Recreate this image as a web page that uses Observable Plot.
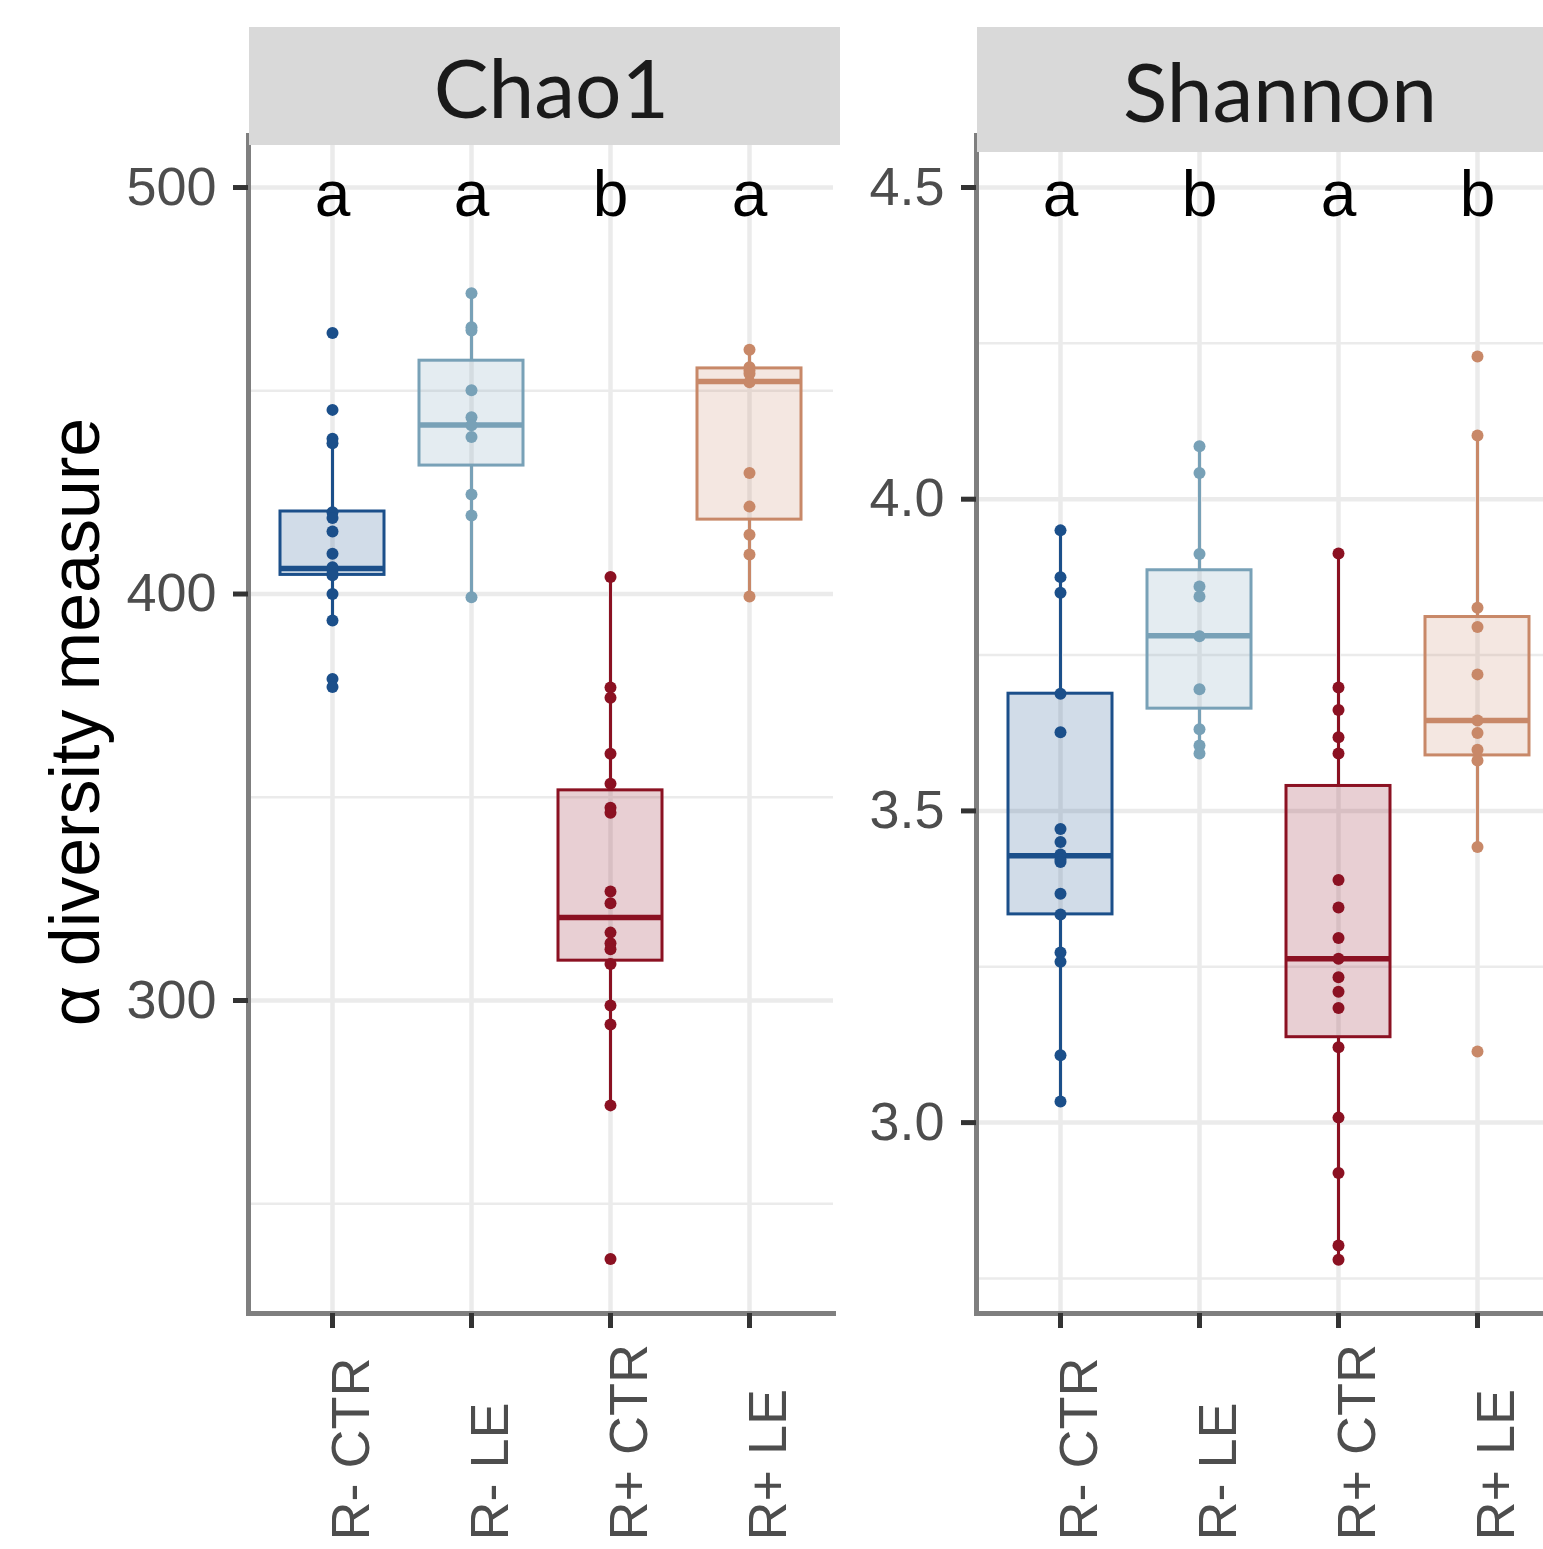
<!DOCTYPE html>
<html>
<head>
<meta charset="utf-8">
<script src="https://cdn.jsdelivr.net/npm/d3@7"></script>
<script src="https://cdn.jsdelivr.net/npm/@observablehq/plot@0.6"></script>
<style>
  html, body { margin: 0; padding: 0; background: #fff; overflow: hidden; }
  #root { position: relative; width: 1543px; height: 1549px; overflow: hidden; background: #fff; }
  .panel { position: absolute; top: 0; height: 1549px; }
  .panel svg { max-width: none !important; height: 1549px !important; display: block; }
  .strip { position: absolute; background: #d9d9d9; display: flex; align-items: center; justify-content: center;
           font-family: Lato, "Open Sans", sans-serif; font-size: 82px; color: #1a1a1a; }
  #ytitle { position: absolute; left: -325px; top: 687px; width: 800px; height: 70px; line-height: 70px;
            text-align: center; transform: rotate(-90deg); transform-origin: 50% 50%;
            font-family: "Liberation Sans", Arial, sans-serif; font-size: 70px; color: #000; white-space: nowrap; }
</style>
</head>
<body>
<div id="root">
  <div id="p1" class="panel" style="left:0px;width:840px"></div>
  <div id="p2" class="panel" style="left:840px;width:728px"></div>
  <div class="strip" style="left:249px;top:27px;width:591px;height:118px;padding-left:14px;box-sizing:border-box;">Chao1</div>
  <div class="strip" style="left:977px;top:27px;width:600px;height:125px;padding-left:6px;box-sizing:border-box;">Shannon</div>
  <div id="ytitle">α diversity measure</div>
</div>
<script>
// ---- categories & styling keys ----
const groups = ["R- CTR", "R- LE", "R+ CTR", "R+ LE"];
const groupColors = ["#1b4f8a", "#78a1b7", "#8b1122", "#c88868"];

// ---- significance letters ----
const chao1Letters = ["a", "a", "b", "a"];
const shannonLetters = ["a", "b", "a", "b"];

// ---- Chao1 sample values ----
const chao1RminusCTR = [464.2, 445.3, 438.2, 437.1, 420.1, 418.7, 415.4, 409.9, 406.6, 406.0, 405.0, 404.6, 400.0, 393.5, 379.1, 377.1];
const chao1RminusLE  = [474.0, 465.6, 464.8, 450.1, 443.5, 441.5, 438.6, 424.5, 419.3, 399.2];
const chao1RplusCTR  = [404.2, 377.0, 374.5, 360.7, 353.3, 347.4, 346.2, 326.8, 323.9, 316.7, 314.1, 312.6, 309.0, 298.8, 294.1, 274.2, 236.4];
const chao1RplusLE   = [460.1, 455.8, 455.0, 454.2, 452.1, 429.8, 421.5, 414.6, 409.7, 399.4];

// ---- Chao1 box statistics ----
const chao1Q1        = [404.7, 431.6, 309.8, 418.3];
const chao1Median    = [406.3, 441.6, 320.4, 452.3];
const chao1Q3        = [420.3, 457.4, 351.7, 455.5];
const chao1WhiskLow  = [393.5, 399.2, 274.2, 399.4];
const chao1WhiskHigh = [438.2, 474.0, 404.2, 460.1];

// ---- Shannon sample values ----
const shannonRminusCTR = [3.950, 3.875, 3.850, 3.688, 3.626, 3.471, 3.450, 3.430, 3.422, 3.418, 3.367, 3.334, 3.273, 3.258, 3.108, 3.034];
const shannonRminusLE  = [4.085, 4.042, 3.912, 3.860, 3.844, 3.780, 3.695, 3.631, 3.605, 3.592];
const shannonRplusCTR  = [3.913, 3.698, 3.662, 3.618, 3.592, 3.389, 3.345, 3.296, 3.263, 3.233, 3.210, 3.184, 3.121, 3.008, 2.919, 2.803, 2.780];
const shannonRplusLE   = [4.229, 4.102, 3.826, 3.795, 3.719, 3.645, 3.625, 3.598, 3.581, 3.442, 3.114];

// ---- Shannon box statistics ----
const shannonQ1        = [3.334, 3.664, 3.137, 3.589];
const shannonMedian    = [3.428, 3.781, 3.263, 3.645];
const shannonQ3        = [3.688, 3.886, 3.540, 3.811];
const shannonWhiskLow  = [3.034, 3.592, 2.780, 3.442];
const shannonWhiskHigh = [3.950, 4.085, 3.913, 4.102];

// ---- axis ticks ----
const chao1MajorTicks = [300, 400, 500];
const chao1MinorTicks = [250, 350, 450];
const shannonMajorTicks = [3.0, 3.5, 4.0, 4.5];
const shannonMinorTicks = [2.75, 3.25, 3.75, 4.25];

function buildPanel({values, q1, med, q3, lo, hi, letters, letterY, domain, major, minor, fmt, width, marginLeft, marginRight}) {
  const points = [];
  groups.forEach((g, i) => values[i].forEach(v => points.push({group: g, value: v})));
  const boxes = groups.map((g, i) => ({group: g, q1: q1[i], med: med[i], q3: q3[i], lo: lo[i], hi: hi[i], letter: letters[i]}));
  const font = "'Liberation Sans', Arial, sans-serif";
  return Plot.plot({
    width, height: 1549,
    marginLeft, marginRight, marginTop: 135, marginBottom: 236,
    style: {fontFamily: font, background: "transparent", overflow: "visible"},
    x: {type: "band", domain: groups, paddingInner: 0.25, paddingOuter: 0.225, label: null},
    y: {domain, label: null},
    color: {domain: groups, range: groupColors},
    marks: [
      Plot.gridY(minor, {stroke: "#ebebeb", strokeOpacity: 1, strokeWidth: 2.5}),
      Plot.gridY(major, {stroke: "#ebebeb", strokeOpacity: 1, strokeWidth: 4.5}),
      Plot.gridX({stroke: "#ebebeb", strokeOpacity: 1, strokeWidth: 4.5}),
      Plot.ruleX(boxes, {x: "group", y1: "q3", y2: "hi", stroke: "group", strokeWidth: 3}),
      Plot.ruleX(boxes, {x: "group", y1: "lo", y2: "q1", stroke: "group", strokeWidth: 3}),
      Plot.barY(boxes, {x: "group", y1: "q1", y2: "q3", fill: "group", fillOpacity: 0.2, stroke: "group", strokeWidth: 3}),
      Plot.tickY(boxes, {x: "group", y: "med", stroke: "group", strokeWidth: 5.5}),
      Plot.dot(points, {x: "group", y: "value", fill: "group", r: 6}),
      Plot.text(boxes, {x: "group", y: () => letterY, text: "letter", fontSize: 64, fill: "#000", lineAnchor: "middle", dy: 8}),
      Plot.frame({anchor: "left", stroke: "#7f7f7f", strokeWidth: 5}),
      Plot.frame({anchor: "bottom", stroke: "#7f7f7f", strokeWidth: 5}),
      Plot.axisY({ticks: major, tickFormat: fmt, tickSize: 15, tickPadding: 17, fontSize: 54, stroke: "#333", fill: "#4d4d4d", strokeWidth: 5, label: null}),
      Plot.axisX({tickSize: 15, tickFormat: () => "", stroke: "#333", strokeWidth: 5, label: null}),
      Plot.text(groups, {x: d => d, frameAnchor: "bottom", dy: 227, dx: 19, rotate: -90, textAnchor: "start", lineAnchor: "middle", fontSize: 54, fill: "#4d4d4d", text: d => d})
    ]
  });
}

document.getElementById("p1").appendChild(buildPanel({
  values: [chao1RminusCTR, chao1RminusLE, chao1RplusCTR, chao1RplusLE],
  q1: chao1Q1, med: chao1Median, q3: chao1Q3, lo: chao1WhiskLow, hi: chao1WhiskHigh,
  letters: chao1Letters, letterY: 500, domain: [223.0, 512.8],
  major: chao1MajorTicks, minor: chao1MinorTicks, fmt: d3.format("d"),
  width: 840, marginLeft: 248, marginRight: 7
}));

document.getElementById("p2").appendChild(buildPanel({
  values: [shannonRminusCTR, shannonRminusLE, shannonRplusCTR, shannonRplusLE],
  q1: shannonQ1, med: shannonMedian, q3: shannonQ3, lo: shannonWhiskLow, hi: shannonWhiskHigh,
  letters: shannonLetters, letterY: 4.5, domain: [2.6938, 4.5834],
  major: shannonMajorTicks, minor: shannonMinorTicks, fmt: d3.format(".1f"),
  width: 728, marginLeft: 136, marginRight: 7
}));
</script>
</body>
</html>
